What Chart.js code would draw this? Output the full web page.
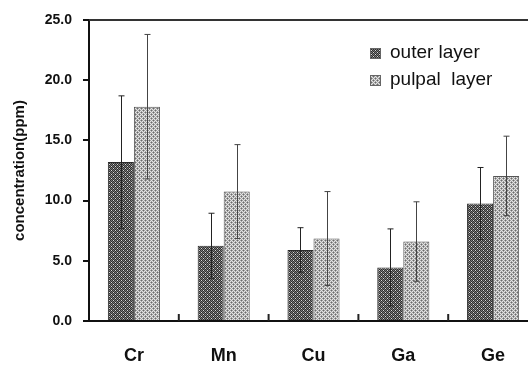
<!DOCTYPE html>
<html>
<head>
<meta charset="utf-8">
<script src="https://cdn.jsdelivr.net/npm/chart.js@4/dist/chart.umd.min.js"></script>
<style>
  body { margin: 0; background: #fff; }
  #wrap { width: 528px; height: 366px; overflow: hidden; }
</style>
</head>
<body>
<div id="wrap"><canvas id="myChart" width="540" height="366"></canvas></div>
<script>
const categories = ['Cr', 'Mn', 'Cu', 'Ga', 'Ge'];
const seriesNames = ['outer layer', 'pulpal  layer'];
const outerValues = [13.2, 6.25, 5.9, 4.45, 9.75];
const outerErrors = [5.5, 2.7, 1.85, 3.2, 3.0];
const pulpalValues = [17.8, 10.75, 6.85, 6.6, 12.05];
const pulpalErrors = [6.0, 3.9, 3.9, 3.3, 3.3];
const errors = [outerErrors, pulpalErrors];

// little checker tiles to imitate the hatched fills
function makePattern(base, dark, dot) {
    let c = document.createElement('canvas');
    c.width = 4; c.height = 4;
    let g = c.getContext('2d');
    g.fillStyle = base;
    g.fillRect(0, 0, 4, 4);
    g.fillStyle = dark;
    for (let y = 0; y < 4; y++) {
        for (let x = 0; x < 4; x++) {
            if ((x + y) % 2 == 0) g.fillRect(x, y, 1, 1);
        }
    }
    g.fillStyle = dot;
    g.fillRect(1, 0, 1, 1);
    g.fillRect(3, 2, 1, 1);
    return g.createPattern(c, 'repeat');
}
const ctx = document.getElementById('myChart').getContext('2d');
const outerFill = makePattern('#7a7a7a', '#2e2e2e', '#d8d8d8');
const pulpalFill = makePattern('#e4e4e4', '#a0a0a0', '#6a6a6a');
const fills = [outerFill, pulpalFill];

const extras = {
    id: 'extras',
    afterDatasetsDraw(chart) {
        const c = chart.ctx;
        const y = chart.scales.y;
        const x = chart.scales.x;
        const area = chart.chartArea;
        c.save();
        // error bars
        chart.data.datasets.forEach((ds, i) => {
            const meta = chart.getDatasetMeta(i);
            c.strokeStyle = i == 0 ? '#222' : '#444';
            c.lineWidth = 1;
            meta.data.forEach((bar, j) => {
                const v = ds.data[j], e = errors[i][j];
                const px = Math.round(bar.x) + 0.5;
                const top = y.getPixelForValue(v + e);
                const bot = y.getPixelForValue(v - e);
                c.beginPath();
                c.moveTo(px, top); c.lineTo(px, bot);
                c.moveTo(px - 3, top); c.lineTo(px + 3, top);
                c.moveTo(px - 3, bot); c.lineTo(px + 3, bot);
                c.stroke();
            });
        });
        // inner tick marks between categories
        c.strokeStyle = '#222';
        c.lineWidth = 2;
        for (let i = 1; i < categories.length; i++) {
            const bx = (x.getPixelForTick(i - 1) + x.getPixelForTick(i)) / 2;
            c.beginPath();
            c.moveTo(bx, area.bottom);
            c.lineTo(bx, area.bottom - 7);
            c.stroke();
        }
        // top frame line
        c.strokeStyle = '#333';
        c.beginPath();
        c.moveTo(area.left, area.top);
        c.lineTo(area.right, area.top);
        c.stroke();
        // legend
        c.font = '19px Arial, "Liberation Sans", sans-serif';
        c.textBaseline = 'middle';
        c.textAlign = 'left';
        const rows = [53, 80];
        chart.data.datasets.forEach((ds, i) => {
            c.fillStyle = fills[i];
            c.fillRect(370, rows[i] - 5, 11, 11);
            c.strokeStyle = '#666';
            c.lineWidth = 1;
            c.strokeRect(370.5, rows[i] - 4.5, 10, 10);
            c.fillStyle = '#111';
            c.fillText(ds.label, 390, rows[i]);
        });
        c.restore();
    }
};

new Chart(ctx, {
    type: 'bar',
    data: {
        labels: categories,
        datasets: [
            { label: seriesNames[0], data: outerValues, backgroundColor: outerFill, borderColor: '#2a2a2a', borderWidth: 1 },
            { label: seriesNames[1], data: pulpalValues, backgroundColor: pulpalFill, borderColor: '#555', borderWidth: 1 }
        ]
    },
    options: {
        responsive: false,
        animation: false,
        devicePixelRatio: 1,
        categoryPercentage: 0.58,
        barPercentage: 1,
        layout: { padding: { top: 20, right: 2, left: 0, bottom: 0 } },
        plugins: {
            legend: { display: false },
            tooltip: { enabled: false }
        },
        scales: {
            x: {
                afterFit(scale) { scale.height = 45; },
                grid: { display: false, drawTicks: false },
                border: { display: true, color: '#111', width: 2 },
                ticks: {
                    color: '#111',
                    padding: 24,
                    font: { family: 'Arial, "Liberation Sans", sans-serif', size: 18, weight: 'bold' }
                }
            },
            y: {
                min: 0,
                max: 25,
                afterFit(scale) { scale.width = 89; },
                grid: { display: true, drawOnChartArea: false, drawTicks: true, tickLength: 6, color: '#111', lineWidth: 2 },
                border: { display: true, color: '#111', width: 2 },
                ticks: {
                    stepSize: 5,
                    color: '#111',
                    padding: 11,
                    callback: (v) => v.toFixed(1),
                    font: { family: 'Arial, "Liberation Sans", sans-serif', size: 14, weight: 'bold' }
                },
                title: {
                    display: true,
                    text: 'concentration(ppm)',
                    color: '#111',
                    padding: { top: 11, bottom: 0 },
                    font: { family: 'Arial, "Liberation Sans", sans-serif', size: 15, weight: 'bold' }
                }
            }
        }
    },
    plugins: [extras]
});
</script>
</body>
</html>
